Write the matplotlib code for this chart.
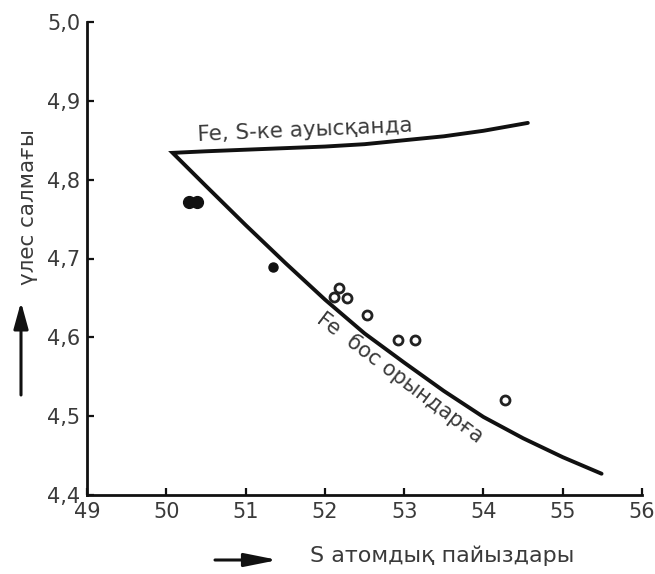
import matplotlib
matplotlib.use("Agg")
import matplotlib.pyplot as plt

plt.rcParams['font.family'] = ['DejaVu Sans']

# Axis ticks and their labels
x_ticks = [49, 50, 51, 52, 53, 54, 55, 56]
x_tick_labels = ["49", "50", "51", "52", "53", "54", "55", "56"]
y_ticks = [4.4, 4.5, 4.6, 4.7, 4.8, 4.9, 5.0]
y_tick_labels = ["4,4", "4,5", "4,6", "4,7", "4,8", "4,9", "5,0"]

# Curve: Fe moves to S positions
upper_x = [50.08, 50.5, 51.0, 51.5, 52.0, 52.5, 53.0, 53.5, 54.0, 54.56]
upper_y = [4.834, 4.836, 4.838, 4.840, 4.842, 4.845, 4.850, 4.855, 4.862, 4.872]

# Curve: Fe vacancies
lower_x = [50.08, 50.5, 51.0, 51.5, 52.0, 52.5, 53.0, 53.5, 54.0, 54.5,
           55.0, 55.49]
lower_y = [4.834, 4.792, 4.7425, 4.6945, 4.648, 4.605, 4.568, 4.532, 4.499,
           4.472, 4.448, 4.427]

# Measured points
filled_x = [50.29, 50.39, 51.35]
filled_y = [4.772, 4.772, 4.689]
filled_size = [8.5, 8.5, 6.5]
open_x = [52.18, 52.12, 52.28, 52.53, 52.92, 53.14, 54.27]
open_y = [4.662, 4.651, 4.650, 4.628, 4.596, 4.596, 4.520]

ink = "#111111"
txt = "#3a3a3a"

fig = plt.figure(figsize=(6.55, 5.74), dpi=100)
ax = fig.add_axes([87 / 655, 79 / 574, 555 / 655, 473 / 574])

# one continuous path so the corner at the left is sharp
path_x = upper_x[::-1] + lower_x[1:]
path_y = upper_y[::-1] + lower_y[1:]
ax.plot(path_x, path_y, color=ink, lw=2.8, solid_joinstyle="miter",
        solid_capstyle="round")

for fx, fy, fs in zip(filled_x, filled_y, filled_size):
    ax.plot([fx], [fy], linestyle="none", marker="o", ms=fs,
            mfc=ink, mec=ink, mew=1.0)
ax.plot(open_x, open_y, linestyle="none", marker="o", ms=6.5,
        mfc="white", mec="#222222", mew=2.0)

ax.set_xlim(49, 56)
ax.set_ylim(4.4, 5.0)
ax.set_xticks(x_ticks)
ax.set_xticklabels(x_tick_labels)
ax.set_yticks(y_ticks)
ax.set_yticklabels(y_tick_labels)

for side in ("top", "right"):
    ax.spines[side].set_visible(False)
for side in ("left", "bottom"):
    ax.spines[side].set_linewidth(2.0)
    ax.spines[side].set_color(ink)

ax.tick_params(direction="in", length=5, width=1.6, colors=ink,
               labelcolor=txt, labelsize=15, pad=5)

# curve captions
ax.text(51.75, 4.863, "Fe, S-ке ауысқанда", fontsize=15.5, color=txt,
        rotation=2.5, rotation_mode="anchor", ha="center", va="center")
ax.text(52.95, 4.549, "Fe  бос орындарға", fontsize=15, color=txt,
        rotation=-37, rotation_mode="anchor", ha="center", va="center")

# axis titles with arrows
fig.text(28 / 655, 1 - 207 / 574, "үлес салмағы", rotation=90, fontsize=15.5,
         color=txt, ha="center", va="center")
fig.text(442 / 655, 1 - 556 / 574, "S атомдық пайыздары", fontsize=16,
         color=txt, ha="center", va="center")

ax.annotate("", xy=(21, 574 - 302), xytext=(21, 574 - 395),
            xycoords="figure pixels", textcoords="figure pixels",
            arrowprops=dict(arrowstyle="-|>,head_length=0.8,head_width=0.22",
                            mutation_scale=20, color=ink, lw=2.2,
                            shrinkA=0, shrinkB=0))
ax.annotate("", xy=(278, 574 - 560), xytext=(215, 574 - 560),
            xycoords="figure pixels", textcoords="figure pixels",
            arrowprops=dict(arrowstyle="-|>,head_length=1.0,head_width=0.2",
                            mutation_scale=20, color=ink, lw=2.2,
                            shrinkA=0, shrinkB=0))

fig.savefig("out.png", dpi=100, facecolor="white")
